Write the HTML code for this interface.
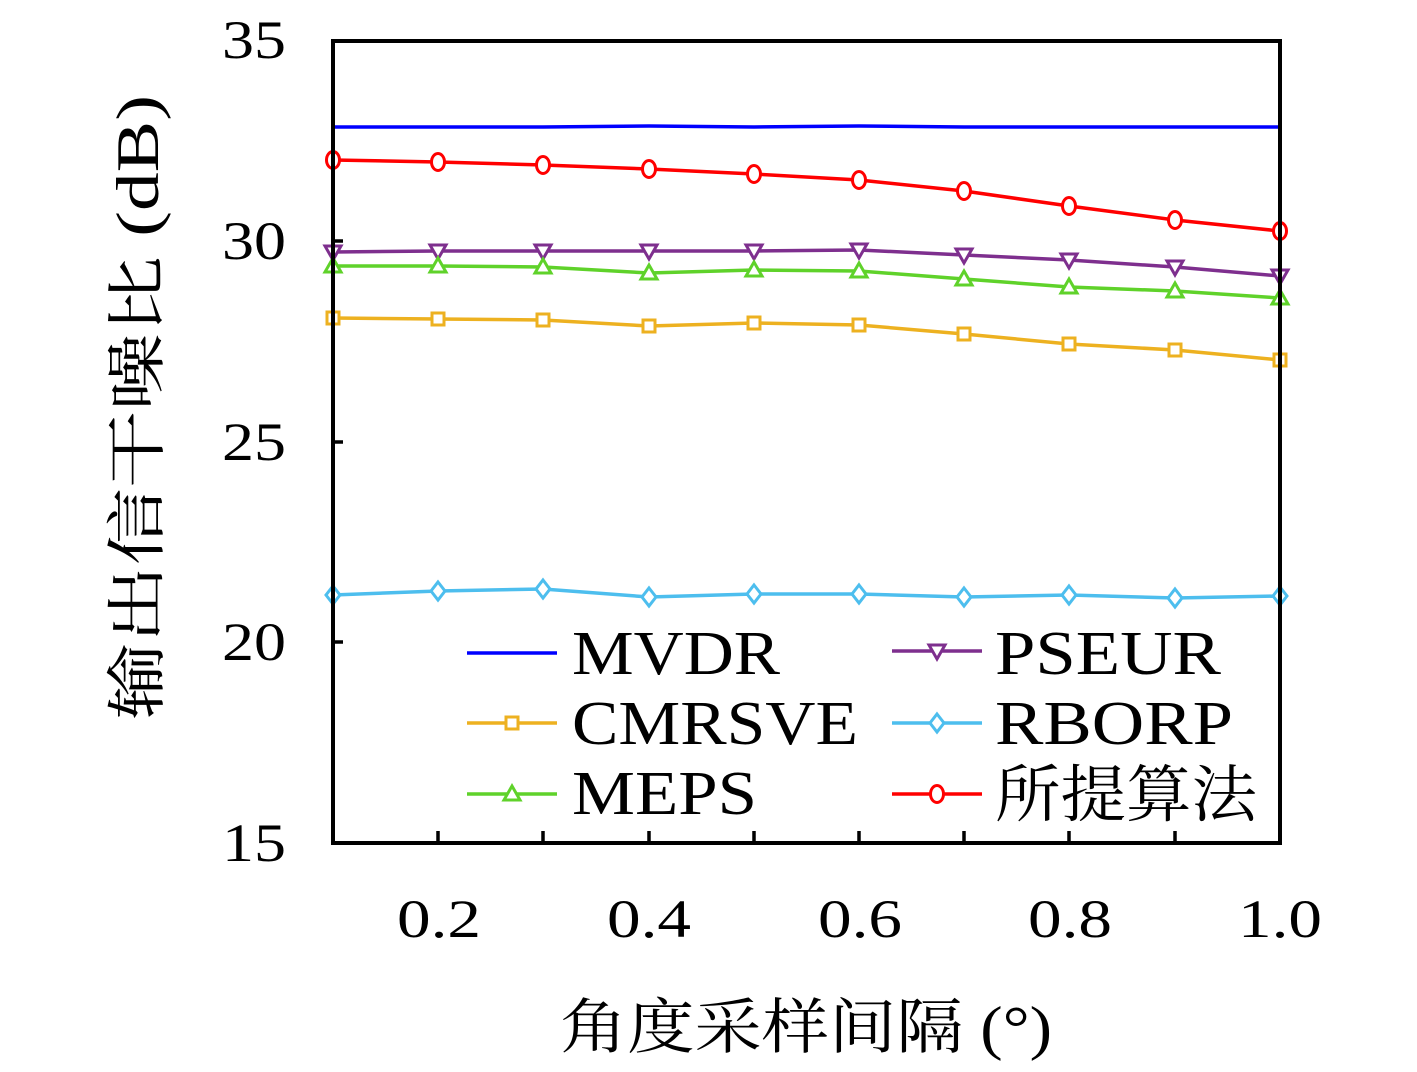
<!DOCTYPE html>
<html><head><meta charset="utf-8"><style>
body{margin:0;background:#fff}
svg text{font-family:"Liberation Serif","Noto Serif CJK SC",serif;fill:#000}
</style></head><body>
<svg width="1417" height="1067" viewBox="0 0 1417 1067" xmlns="http://www.w3.org/2000/svg">
<defs>
<g id="sq"><rect x="-6" y="-6" width="12" height="12" fill="#fff" stroke="#EDB120" stroke-width="3"/></g>
<g id="tu"><polygon points="0,-8 8,6 -8,6" fill="#fff" stroke="#5FD22A" stroke-width="3"/></g>
<g id="td"><polygon points="0,8 8,-6 -8,-6" fill="#fff" stroke="#7E2F8E" stroke-width="3"/></g>
<g id="ci"><ellipse rx="6.5" ry="8.5" fill="#fff" stroke="#f00" stroke-width="3"/></g>
<g id="di"><polygon points="0,-9 7,0 0,9 -7,0" fill="#fff" stroke="#4DBEEE" stroke-width="3"/></g>
</defs>
<g fill="none" stroke-width="3.5">
<polyline stroke="#00f" points="333,127 438,127 543,127 649,126 754,127 859,126 964,127 1069,127 1175,127 1280,127"/>
<polyline stroke="#f00" points="333,160 438,162 543,165 649,169 754,174 859,180 964,191 1069,206 1175,220 1280,231"/>
<polyline stroke="#7E2F8E" points="333,252 438,251 543,251 649,251 754,251 859,250 964,255 1069,260 1175,267 1280,276"/>
<polyline stroke="#5FD22A" points="333,266 438,266 543,267 649,273 754,270 859,271 964,279 1069,287 1175,291 1280,298"/>
<polyline stroke="#EDB120" points="333,318 438,319 543,320 649,326 754,323 859,325 964,334 1069,344 1175,350 1280,360"/>
<polyline stroke="#4DBEEE" points="333,595 438,591 543,589 649,597 754,594 859,594 964,597 1069,595 1175,598 1280,596"/>
</g>
<g>
<use href="#ci" x="333" y="160"/><use href="#ci" x="438" y="162"/><use href="#ci" x="543" y="165"/><use href="#ci" x="649" y="169"/><use href="#ci" x="754" y="174"/><use href="#ci" x="859" y="180"/><use href="#ci" x="964" y="191"/><use href="#ci" x="1069" y="206"/><use href="#ci" x="1175" y="220"/><use href="#ci" x="1280" y="231"/>
<use href="#td" x="333" y="252"/><use href="#td" x="438" y="251"/><use href="#td" x="543" y="251"/><use href="#td" x="649" y="251"/><use href="#td" x="754" y="251"/><use href="#td" x="859" y="250"/><use href="#td" x="964" y="255"/><use href="#td" x="1069" y="260"/><use href="#td" x="1175" y="267"/><use href="#td" x="1280" y="276"/>
<use href="#tu" x="333" y="266"/><use href="#tu" x="438" y="266"/><use href="#tu" x="543" y="267"/><use href="#tu" x="649" y="273"/><use href="#tu" x="754" y="270"/><use href="#tu" x="859" y="271"/><use href="#tu" x="964" y="279"/><use href="#tu" x="1069" y="287"/><use href="#tu" x="1175" y="291"/><use href="#tu" x="1280" y="298"/>
<use href="#sq" x="333" y="318"/><use href="#sq" x="438" y="319"/><use href="#sq" x="543" y="320"/><use href="#sq" x="649" y="326"/><use href="#sq" x="754" y="323"/><use href="#sq" x="859" y="325"/><use href="#sq" x="964" y="334"/><use href="#sq" x="1069" y="344"/><use href="#sq" x="1175" y="350"/><use href="#sq" x="1280" y="360"/>
<use href="#di" x="333" y="595"/><use href="#di" x="438" y="591"/><use href="#di" x="543" y="589"/><use href="#di" x="649" y="597"/><use href="#di" x="754" y="594"/><use href="#di" x="859" y="594"/><use href="#di" x="964" y="597"/><use href="#di" x="1069" y="595"/><use href="#di" x="1175" y="598"/><use href="#di" x="1280" y="596"/>
</g>
<rect x="333" y="41" width="947" height="802" fill="none" stroke="#000" stroke-width="4"/>
<g stroke="#000" stroke-width="3.5">
<path d="M438,843v-12M543,843v-12M649,843v-12M754,843v-12M859,843v-12M964,843v-12M1069,843v-12M1175,843v-12"/>
<path d="M333,241h10M333,442h10M333,642h10"/>
</g>
<g font-size="54" text-anchor="end">
<text x="286" y="58" textLength="64" lengthAdjust="spacingAndGlyphs">35</text><text x="286" y="259" textLength="64" lengthAdjust="spacingAndGlyphs">30</text><text x="286" y="460" textLength="64" lengthAdjust="spacingAndGlyphs">25</text><text x="286" y="660" textLength="64" lengthAdjust="spacingAndGlyphs">20</text><text x="286" y="861" textLength="64" lengthAdjust="spacingAndGlyphs">15</text>
</g>
<g font-size="54">
<text x="397" y="937" textLength="84" lengthAdjust="spacingAndGlyphs">0.2</text><text x="607" y="937" textLength="84" lengthAdjust="spacingAndGlyphs">0.4</text><text x="818" y="937" textLength="84" lengthAdjust="spacingAndGlyphs">0.6</text><text x="1028" y="937" textLength="84" lengthAdjust="spacingAndGlyphs">0.8</text><text x="1238" y="937" textLength="84" lengthAdjust="spacingAndGlyphs">1.0</text>
</g>
<text x="560" y="1048" font-size="60" textLength="492" lengthAdjust="spacingAndGlyphs">角度采样间隔 (°)</text>
<text transform="translate(158,720) rotate(-90)" font-size="60" textLength="625" lengthAdjust="spacingAndGlyphs">输出信干噪比 (dB)</text>
<g stroke-width="3.5" fill="none">
<path d="M467,653h90" stroke="#00f"/>
<path d="M467,723h90" stroke="#EDB120"/>
<path d="M467,794h90" stroke="#5FD22A"/>
<path d="M892,651h90" stroke="#7E2F8E"/>
<path d="M892,723h90" stroke="#4DBEEE"/>
<path d="M892,794h90" stroke="#f00"/>
</g>
<use href="#sq" x="512" y="723"/><use href="#tu" x="512" y="794"/><use href="#td" x="937" y="651"/><use href="#di" x="937" y="723"/><use href="#ci" x="937" y="794"/>
<g font-size="62">
<text x="572" y="674" textLength="208" lengthAdjust="spacingAndGlyphs">MVDR</text><text x="572" y="744" textLength="286" lengthAdjust="spacingAndGlyphs">CMRSVE</text><text x="572" y="814" textLength="185" lengthAdjust="spacingAndGlyphs">MEPS</text>
<text x="995" y="674" textLength="226" lengthAdjust="spacingAndGlyphs">PSEUR</text><text x="995" y="744" textLength="238" lengthAdjust="spacingAndGlyphs">RBORP</text><text x="995" y="816" textLength="262" lengthAdjust="spacingAndGlyphs">所提算法</text>
</g>
</svg>
</body></html>
